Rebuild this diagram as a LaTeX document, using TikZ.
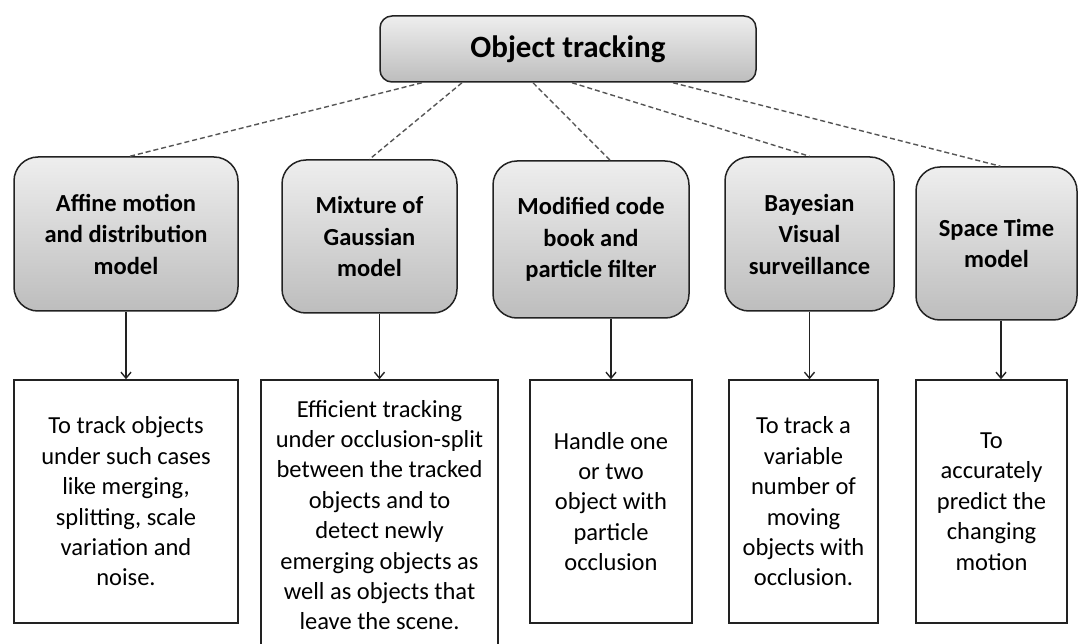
\documentclass[tikz,border=0pt]{standalone}
\usepackage{fontspec}
\setmainfont{Carlito}
\usetikzlibrary{arrows.meta}
\definecolor{gtop}{HTML}{EEEEEE}
\definecolor{gbot}{HTML}{BDBDBD}
\definecolor{edge}{HTML}{222222}
\definecolor{dashc}{HTML}{555555}
\tikzset{
  topbox/.style={draw=edge, line width=1.5pt, rounded corners=12pt, top color=gtop, bottom color=gbot,
    minimum width=376pt, minimum height=66pt, inner sep=0pt,
    font=\fontsize{31}{36}\selectfont\bfseries},
  midbox/.style={draw=edge, line width=1.5pt, rounded corners=24pt, top color=gtop, bottom color=gbot,
    inner sep=0pt, align=center, font=\fontsize{24.5}{31.5}\selectfont\bfseries},
  txtbox/.style={draw=edge, line width=1.5pt, fill=white, inner sep=0pt, align=center,
    font=\fontsize{24.5}{30.4}\selectfont},
  dashline/.style={dashc, line width=1.4pt, dash pattern=on 5pt off 3pt},
  arr/.style={edge, line width=1.4pt, -{Straight Barb[length=6pt,width=10pt]}}
}
\begin{document}
\begin{tikzpicture}[x=1pt,y=-1pt]
\useasboundingbox (0,0) rectangle (1079,644);
\clip (0,0) rectangle (1079,644);
% top
\node[topbox] (top) at (568,49) {Object tracking};
% middle boxes
\node[midbox, minimum width=224pt, minimum height=154pt] (m1) at (126,234) {Affine motion\\and distribution\\model};
\node[midbox, minimum width=175pt, minimum height=153pt] (m2) at (369.5,236.5) {Mixture of\\Gaussian\\model};
\node[midbox, minimum width=196pt, minimum height=157pt] (m3) at (591,239.5) {Modified code\\book and\\particle filter};
\node[midbox, minimum width=169pt, minimum height=154pt] (m4) at (809.5,234) {Bayesian\\Visual\\surveillance};
\node[midbox, minimum width=161pt, minimum height=153pt] (m5) at (996.5,243.5) {Space Time\\model};
% bottom boxes
\node[txtbox, minimum width=224pt, minimum height=243pt] (b1) at (126,501.5) {To track objects\\under such cases\\like merging,\\splitting, scale\\variation and\\noise.};
\node[txtbox, minimum width=237pt, minimum height=270pt] (b2) at (379.5,515) {Efficient tracking\\under occlusion-split\\between the tracked\\objects and to\\detect newly\\emerging objects as\\well as objects that\\leave the scene.};
\node[txtbox, minimum width=162pt, minimum height=243pt] (b3) at (611,501.5) {Handle one\\or two\\object with\\particle\\occlusion};
\node[txtbox, minimum width=149pt, minimum height=243pt] (b4) at (803.5,501.5) {To track a\\variable\\number of\\moving\\objects with\\occlusion.};
\node[txtbox, minimum width=151pt, minimum height=243pt] (b5) at (991.5,501.5) {To\\accurately\\predict the\\changing\\motion};
% dashed links
\draw[dashline] ([xshift=-146pt]top.south) -- ([xshift=4pt]m1.north);
\draw[dashline] ([xshift=-106pt]top.south) -- (m2.north);
\draw[dashline] ([xshift=-35pt]top.south) -- ([xshift=19pt]m3.north);
\draw[dashline] ([xshift=4pt]top.south) -- (m4.north);
\draw[dashline] ([xshift=105pt]top.south) -- ([xshift=4pt]m5.north);
% arrows
\draw[arr] (m1.south) -- (b1.north);
\draw[arr] (m2.south -| b2.north) -- (b2.north);
\draw[arr] (m3.south -| b3.north) -- (b3.north);
\draw[arr] (m4.south) -- (m4.south |- b4.north);
\draw[arr] ([xshift=4.5pt]m5.south) -- ([xshift=4.5pt]m5.south |- b5.north);
\end{tikzpicture}
\end{document}
